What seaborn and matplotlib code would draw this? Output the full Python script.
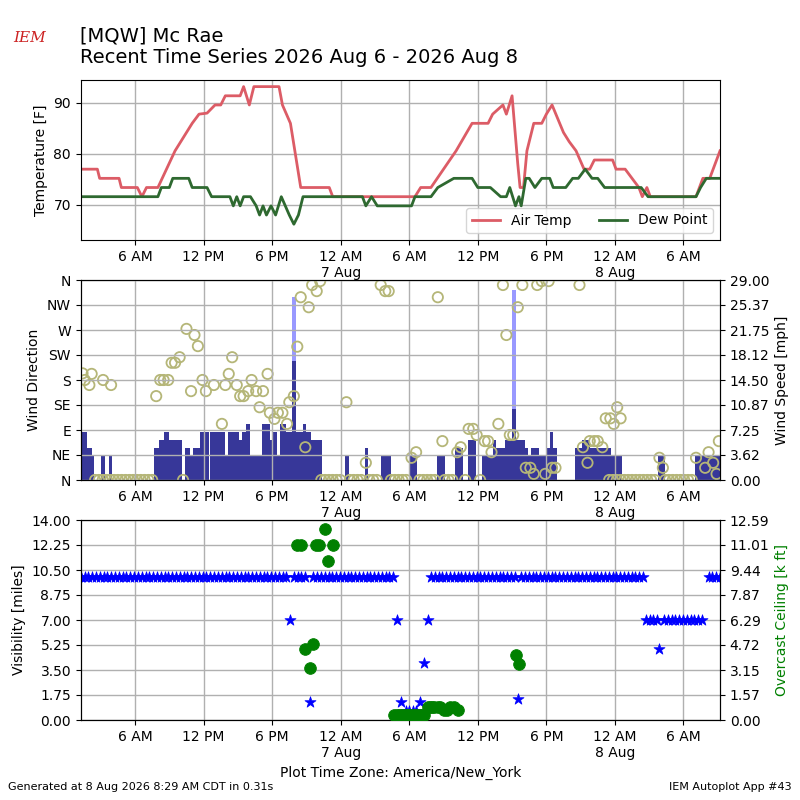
import numpy as np
import pandas as pd
import matplotlib
matplotlib.use("Agg")
import matplotlib.pyplot as plt
import seaborn as sns

# ---------------------------------------------------------------------
# Data (x = hours since 2026-08-06 00:00 America/New_York)
# ---------------------------------------------------------------------
X0, X1 = 1.25, 57.2

temp_h = [1.25, 2.7, 2.9, 4.6, 4.8, 6.2, 6.6, 7.0, 8.0, 9.5, 10.0, 10.5, 11.0, 11.6, 12.3,
          13.0, 13.5, 13.9, 15.2, 15.5, 16.0, 16.4, 18.6, 18.9, 19.6, 20.5, 23.0, 23.3,
          30.5, 31.0, 31.9, 33.0, 34.1, 35.5, 36.9, 37.3, 38.2, 38.5, 39.0, 39.5, 39.7,
          40.0, 40.3, 40.9, 41.6, 42.0, 42.5, 43.5, 44.0, 44.6, 45.3, 45.8, 46.2, 47.8,
          48.1, 48.9, 49.5, 50.1, 50.4, 50.8, 51.1, 55.1, 55.7, 56.3, 57.2]
temp_f = [77, 77, 75.2, 75.2, 73.4, 73.4, 71.6, 73.4, 73.4, 80.6, 82.4, 84.2, 86, 87.8, 88,
          89.6, 89.6, 91.4, 91.4, 93.2, 89.6, 93.2, 93.2, 89.6, 86, 73.4, 73.4, 71.6,
          71.6, 73.4, 73.4, 77, 80.6, 86, 86, 87.8, 89.6, 87.8, 91.4, 78, 73.4,
          73.4, 80.6, 86, 86, 87.8, 89.6, 84.2, 82.4, 80.6, 77, 77, 78.8, 78.8,
          77, 77, 75.2, 73.4, 71.6, 73.4, 71.6, 71.6, 75.2, 75.2, 80.6]

dew_h = [1.25, 8.0, 8.3, 9.0, 9.3, 10.7, 11.0, 12.3, 12.7, 14.3, 14.6, 14.9, 15.2, 15.5,
         16.1, 16.6, 16.9, 17.2, 17.5, 17.9, 18.3, 18.8, 19.5, 19.9, 20.3, 20.7, 25.9,
         26.2, 26.7, 27.2, 30.2, 30.5, 31.9, 32.5, 33.9, 35.5, 36.0, 37.1, 38.0, 38.5,
         38.8, 39.3, 39.6, 39.8, 40.2, 40.5, 41.0, 41.6, 42.3, 42.6, 43.7, 44.3, 44.8,
         45.4, 46.0, 46.5, 47.1, 50.3, 50.9, 55.1, 55.5, 56.0, 57.2]
dew_f = [71.6, 71.6, 73.4, 73.4, 75.2, 75.2, 73.4, 73.4, 71.6, 71.6, 69.8, 71.6, 69.8, 71.6,
         71.6, 69.8, 68, 69.8, 68, 69.8, 68, 71.6, 68, 66.2, 68, 71.6, 71.6,
         69.8, 71.6, 69.8, 69.8, 71.6, 71.6, 73.4, 75.2, 75.2, 73.4, 73.4, 71.6, 71.6,
         73.4, 69.8, 71.6, 69.8, 75.2, 75.2, 73.4, 75.2, 75.2, 73.4, 73.4, 75.2, 75.2,
         77, 75.2, 75.2, 73.4, 73.4, 71.6, 71.6, 73.4, 75.2, 75.2]

# wind speed runs: (start h, end h, knots)
wind_runs = [(1.3, 1.8, 6), (1.8, 2.2, 4), (2.2, 2.4, 3), (3.0, 3.4, 3), (3.75, 4.0, 3),
             (7.7, 8.1, 4), (8.1, 8.5, 5), (8.5, 9.0, 6), (9.0, 10.1, 5), (10.4, 10.8, 4),
             (10.8, 11.1, 3), (11.1, 11.7, 4), (11.7, 12.5, 6), (12.6, 13.9, 6), (13.9, 14.1, 3),
             (14.1, 15.1, 6), (15.1, 15.4, 5), (15.4, 15.7, 6), (15.7, 16.1, 7), (16.1, 17.1, 3),
             (17.1, 17.8, 7), (17.8, 18.0, 5), (18.0, 18.4, 6), (18.4, 18.7, 3), (18.7, 19.2, 7),
             (19.2, 19.7, 6), (19.7, 20.1, 15), (20.1, 20.7, 6), (20.7, 21.0, 7), (21.0, 21.4, 6),
             (21.4, 22.4, 5), (24.4, 24.7, 3), (26.1, 26.4, 4), (27.5, 28.4, 3), (30.1, 30.7, 3),
             (32.4, 33.1, 3), (34.0, 34.7, 4), (35.1, 35.8, 5), (36.4, 37.3, 3), (37.3, 37.6, 5),
             (37.6, 38.4, 4), (38.4, 39.0, 5), (39.0, 39.3, 9), (39.3, 40.1, 5), (40.1, 40.4, 4),
             (40.4, 40.7, 3), (40.7, 41.4, 4), (41.4, 42.0, 3), (42.0, 42.3, 4), (42.3, 42.6, 6),
             (42.6, 42.9, 4), (44.5, 45.1, 4), (45.1, 45.8, 5), (45.8, 46.3, 4), (46.3, 47.7, 4),
             (47.7, 48.6, 3), (51.8, 52.4, 3), (55.0, 55.3, 3), (55.3, 57.2, 3)]
gust_runs = [(19.75, 20.05, 23), (39.0, 39.3, 24)]

dir_h = [1.4, 1.6, 2.0, 2.2, 3.2, 3.9, 7.85, 8.2, 8.5, 8.9, 9.2, 9.5, 9.9, 10.5, 11.2, 11.5,
         10.9, 11.9, 12.2, 12.9, 13.6, 13.9, 14.2, 14.5, 14.9, 15.2, 15.5, 15.9, 16.2, 16.6,
         17.2, 16.9, 17.6, 17.8, 18.2, 18.5, 18.9, 19.3, 19.5, 19.9, 20.2, 20.9, 21.2, 20.5,
         21.5, 21.9, 22.2, 24.5, 26.2, 27.5, 27.9, 28.2, 30.2, 30.6, 32.5, 32.9, 34.2, 34.5,
         35.2, 35.6, 35.9, 36.6, 36.9, 37.2, 37.8, 38.8, 39.1, 38.2, 38.5, 39.5, 39.9, 41.2,
         41.6, 42.2, 44.9, 40.2, 40.6, 40.9, 41.9, 42.5, 42.8, 45.2, 45.6, 45.8, 46.2, 46.5,
         46.9, 47.2, 47.6, 47.9, 48.2, 48.5, 51.9, 52.2, 55.1, 55.9, 56.2, 56.6, 56.9, 57.1]
dir_deg = [192, 180, 171, 191, 180, 171, 151, 180, 180, 180, 211, 211, 221, 272, 261, 241,
           160, 180, 160, 171, 101, 171, 191, 221, 171, 151, 151, 160, 180, 160,
           160, 131, 191, 121, 110, 121, 121, 101, 140, 151, 240, 59, 311, 329,
           351, 340, 358, 140, 31, 351, 340, 340, 40, 50, 329, 70, 50, 59,
           92, 92, 81, 70, 70, 50, 101, 81, 81, 351, 261, 311, 351, 351,
           358, 358, 351, 22, 22, 11, 11, 22, 22, 59, 31, 70, 70, 70,
           59, 111, 111, 101, 131, 111, 40, 22, 40, 22, 50, 31, 11, 70]
calm_spans = [(2.5, 7.7), (10.2, 10.3), (22.3, 24.1), (24.8, 26.0), (26.5, 27.3),
              (28.4, 30.0), (30.9, 32.3), (33.1, 34.0), (34.9, 35.0), (36.2, 36.3),
              (47.5, 51.6), (52.4, 55.0)]

# visibility runs: (start h, end h, miles), 20 minute reports
vis_runs = [(1.25, 19.4, 10), (19.9, 21.1, 10), (21.6, 28.7, 10), (31.9, 39.3, 10),
            (39.8, 50.6, 10), (50.7, 52.0, 7), (52.3, 55.9, 7), (56.2, 57.2, 10)]
vis_extra_h = [19.6, 21.3, 28.9, 29.3, 30.9, 31.3, 31.6, 39.5, 51.9, 29.7, 30.0, 30.3, 30.6]
vis_extra_v = [7, 1.25, 7, 1.25, 1.25, 4.0, 7, 1.5, 5.0, 0.6, 0.6, 0.6, 0.6]

ceil_h = [20.2, 20.5, 21.8, 22.1, 22.6, 22.9, 23.3, 20.9, 21.6, 21.3, 39.3, 39.6,
          28.7, 28.9, 29.1, 29.3, 29.5, 29.7, 29.9, 30.1, 30.3, 30.5, 30.7, 30.9, 31.1, 31.3,
          31.6, 31.8, 32.0, 32.2, 32.5, 32.7, 33.0, 33.3, 33.6, 33.9, 34.3]
ceil_k = [11, 11, 11, 11, 12, 10, 11, 4.5, 4.76, 3.25, 4.07, 3.5,
          0.31, 0.31, 0.31, 0.31, 0.31, 0.31, 0.31, 0.31, 0.31, 0.31, 0.31, 0.31, 0.31, 0.31,
          0.84, 0.84, 0.84, 0.84, 0.84, 0.84, 0.6, 0.6, 0.84, 0.84, 0.6]

tick_h = [6, 12, 18, 24, 30, 36, 42, 48, 54]
tick_lbl = ["6 AM", "12 PM", "6 PM", "12 AM\n7 Aug", "6 AM", "12 PM", "6 PM", "12 AM\n8 Aug", "6 AM"]
speed_lbl = ["0.00", "3.62", "7.25", "10.87", "14.50", "18.12", "21.75", "25.37", "29.00"]
vis_lbl = ["0.00", "1.75", "3.50", "5.25", "7.00", "8.75", "10.50", "12.25", "14.00"]
ceil_lbl = ["0.00", "1.57", "3.15", "4.72", "6.29", "7.87", "9.44", "11.01", "12.59"]

KT2MPH = 1.15078


def every20(runs):
    hs, vs = [], []
    for a, b, v in runs:
        for h in np.arange(a, b + 0.01, 1 / 3):
            hs.append(h)
            vs.append(v)
    return hs, vs


def fmt_time(ax):
    ax.set_xlim(X0, X1)
    ax.set_xticks(tick_h)
    ax.set_xticklabels(tick_lbl)
    ax.grid(True, color="#b0b0b0", lw=1)
    ax.set_xlabel("")


fig = plt.figure(figsize=(8, 8), dpi=100)
ax1 = fig.add_axes([0.101, 0.70, 0.799, 0.20])
ax2 = fig.add_axes([0.101, 0.40, 0.799, 0.25])
ax3 = fig.add_axes([0.101, 0.10, 0.799, 0.25])

# Temperature panel
sns.lineplot(x=temp_h, y=temp_f, ax=ax1, color="#dc5c66", lw=2, label="Air Temp")
sns.lineplot(x=dew_h, y=dew_f, ax=ax1, color="#2e6930", lw=2, label="Dew Point")
fmt_time(ax1)
ax1.set_ylim(63.1, 94.5)
ax1.set_yticks([70, 80, 90])
ax1.set_ylabel("Temperature [F]")
ax1.legend(loc="lower right", ncol=2, fontsize=10)

# Wind panel
ax2r = ax2.twinx()
for a, b, g in gust_runs:
    ax2r.bar(a, g * KT2MPH, width=b - a, align="edge", color="#9999ff", lw=0)
for a, b, s in wind_runs:
    ax2r.bar(a, s * KT2MPH, width=b - a, align="edge", color="#373799", lw=0)
ax2r.set_ylim(0, 29)
ax2r.set_yticks(np.linspace(0, 29, 9))
ax2r.set_yticklabels(speed_lbl)
ax2r.set_ylabel("Wind Speed [mph]")
calm_h, calm_d = every20([(a, b, 0) for a, b, in calm_spans])
sns.scatterplot(x=dir_h + calm_h, y=dir_deg + calm_d, ax=ax2, marker="o", s=55,
                facecolor="none", edgecolor="#b5b678", linewidth=1.3)
ax2.set_zorder(ax2r.get_zorder() + 1)
ax2.patch.set_visible(False)
fmt_time(ax2)
ax2.set_ylim(0, 360)
ax2.set_yticks(range(0, 361, 45))
ax2.set_yticklabels(["N", "NE", "E", "SE", "S", "SW", "W", "NW", "N"])
ax2.set_ylabel("Wind Direction")

# Visibility / ceiling panel
ax3r = ax3.twinx()
vh, vv = every20(vis_runs)
sns.scatterplot(x=vh + vis_extra_h, y=vv + vis_extra_v, ax=ax3, marker="*", s=70,
                color="blue", edgecolor="blue", linewidth=0.5, zorder=3)
sns.scatterplot(x=ceil_h, y=ceil_k, ax=ax3r, marker="o", s=70, color="green",
                edgecolor="green", zorder=3)
fmt_time(ax3)
ax3.set_ylim(0, 14)
ax3.set_yticks(np.linspace(0, 14, 9))
ax3.set_yticklabels(vis_lbl)
ax3.set_ylabel("Visibility [miles]")
ax3r.set_ylim(0, 12.59)
ax3r.set_yticks(np.linspace(0, 12.59, 9))
ax3r.set_yticklabels(ceil_lbl)
ax3r.set_ylabel("Overcast Ceiling [k ft]", color="green")
ax3.set_xlabel("Plot Time Zone: America/New_York")

fig.text(0.10, 0.955, "[MQW] Mc Rae", fontsize=14, va="center")
fig.text(0.10, 0.928, "Recent Time Series 2026 Aug 6 - 2026 Aug 8", fontsize=14, va="center")
fig.text(0.037, 0.952, "IEM", fontsize=11, color="#cc2222", style="italic",
         family="serif", ha="center", va="center")
fig.text(0.01, 0.012, "Generated at 8 Aug 2026 8:29 AM CDT in 0.31s", fontsize=8)
fig.text(0.99, 0.012, "IEM Autoplot App #43", fontsize=8, ha="right")

fig.savefig("out.png", dpi=100)
